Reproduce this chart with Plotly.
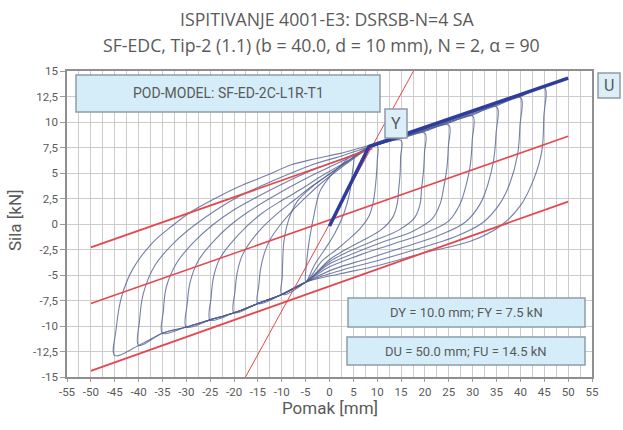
import plotly.graph_objects as go

# ---------------- data ----------------
x_ticks = [-55, -50, -45, -40, -35, -30, -25, -20, -15, -10, -5, 0, 5, 10, 15, 20, 25, 30, 35, 40, 45, 50, 55]
x_ticktext = ["-55", "-50", "-45", "-40", "-35", "-30", "-25", "-20", "-15", "-10", "-5", "0", "5",
              "10", "15", "20", "25", "30", "35", "40", "45", "50", "55"]
y_ticks = [-15, -12.5, -10, -7.5, -5, -2.5, 0, 2.5, 5, 7.5, 10, 12.5, 15]
y_ticktext = ["-15", "-12,5", "-10", "-7,5", "-5", "-2,5", "0", "2,5", "5", "7,5", "10", "12,5", "15"]

# common lower (negative) envelope path
lower_env_x = [-5, -10, -15, -20, -25, -30, -35, -40, -45]
lower_env_f = [-5.7, -6.9, -7.8, -8.7, -9.4, -10.1, -10.7, -11.9, -12.9]

amplitudes = [5, 10, 15, 20, 25, 30, 35, 40, 45]

# unloading branches (from +A peak towards the lower path)
desc_x = {
    45: [45, 44.9, 44.5, 42.8, 40, 35.8, 29.5, 20, 10, 2],
    40: [40, 39.9, 39.4, 37.8, 35.7, 32, 26, 18, 10, 2],
    35: [35, 34.9, 34.4, 33.2, 31.6, 28.5, 23, 16, 8, 1],
    30: [30, 29.9, 29.5, 28.5, 27.4, 25, 20, 13, 6, 0],
    25: [25, 24.9, 24.6, 23.9, 23.2, 21.5, 17.5, 11, 5, 0],
    20: [20, 19.9, 19.7, 19.3, 19, 17.8, 14.5, 9, 4, 0],
    15: [15, 14.9, 14.8, 14.5, 14.2, 13.3, 11, 7, 3, 0],
    10: [10, 10, 9.8, 9.5, 9.1, 8.3, 6.5, 4, 1.5, -1.5],
    5: [5, 4.8, 4.2, 3, 1, -1, -3],
}
desc_f = {
    45: [13.4, 10.5, 7.2, 4.4, 1.8, -0.2, -1.7, -2.8, -4.1, -4.9],
    40: [12.4, 9.6, 6.8, 4.0, 2.0, 0.1, -1.3, -2.5, -3.6, -4.6],
    35: [11.5, 8.9, 6.3, 3.9, 2.0, 0.2, -1.1, -2.2, -3.4, -4.4],
    30: [10.6, 8.2, 5.8, 3.6, 2.0, 0.3, -0.9, -2.0, -3.1, -4.2],
    25: [9.7, 7.6, 5.5, 3.5, 2.0, 0.5, -0.7, -1.8, -2.9, -3.9],
    20: [8.9, 7.0, 5.2, 3.5, 2.0, 0.6, -0.6, -1.7, -2.7, -3.7],
    15: [8.2, 6.6, 5.0, 3.4, 2.0, 0.7, -0.5, -1.6, -2.6, -3.5],
    10: [7.7, 6.2, 4.6, 3.2, 2.0, 0.8, -0.4, -1.5, -2.5, -3.6],
    5: [6.8, 5.0, 3.0, 1.0, -1.0, -2.5, -3.9],
}

# reloading branches (from -A peak up to +A peak)
asc_x = {
    45: [-45, -44.7, -43.6, -41.2, -37, -33, -29, -24, -18.8, -13, -8, -3, 2, 6, 9, 15, 20, 25, 30, 35, 40, 45],
    40: [-40, -39.8, -39, -36.5, -32.5, -28.5, -24, -19, -13.5, -8, -3, 2, 6, 9, 15, 20, 25, 30, 35, 40],
    35: [-35, -34.8, -34.2, -32, -28.5, -24.5, -20, -15, -10, -5, 0, 5, 9, 15, 20, 25, 30, 35],
    30: [-30, -29.8, -29.2, -27.5, -24.5, -21, -17, -12.5, -8, -3.5, 1, 5, 9, 15, 20, 25, 30],
    25: [-25, -24.8, -24.3, -23, -20.5, -17.5, -14, -10, -6, -2, 2, 6, 9, 15, 20, 25],
    20: [-20, -19.8, -19.3, -18.3, -16.5, -14, -11, -7.5, -4, 0, 4, 8, 10, 15, 20],
    15: [-15, -14.8, -14.4, -13.6, -12.4, -10.5, -8, -5, -2, 1.5, 5, 8.5, 11, 15],
    10: [-10, -9.9, -9.8, -9.5, -8.5, -6.8, -3.5, 0, 4, 8, 10],
    5: [-5, -4.8, -4.2, -3.2, -2, 0, 2.5, 5],
}
asc_f = {
    45: [-12.9, -10.3, -7.2, -4.4, -1.8, -0.2, 1.2, 2.5, 3.7, 4.8, 5.8, 6.4, 6.9, 7.4, 7.8, 8.6, 9.3, 10.1, 10.9, 11.7, 12.5, 13.4],
    40: [-11.9, -9.5, -6.8, -4.0, -1.8, -0.2, 1.3, 2.7, 3.9, 5.0, 5.9, 6.6, 7.2, 7.7, 8.5, 9.2, 10.0, 10.8, 11.6, 12.4],
    35: [-10.7, -8.5, -6.2, -3.8, -1.8, -0.1, 1.4, 2.7, 3.9, 5.0, 5.9, 6.8, 7.6, 8.5, 9.2, 10.0, 10.7, 11.5],
    30: [-10.1, -7.8, -5.7, -3.6, -1.8, -0.2, 1.2, 2.5, 3.7, 4.8, 5.8, 6.7, 7.6, 8.5, 9.2, 9.9, 10.6],
    25: [-9.4, -7.2, -5.2, -3.4, -1.8, -0.3, 1.1, 2.3, 3.4, 4.6, 5.7, 6.8, 7.6, 8.4, 9.1, 9.7],
    20: [-8.7, -6.6, -4.7, -3.1, -1.7, -0.3, 1.0, 2.3, 3.6, 4.9, 6.2, 7.4, 7.8, 8.4, 8.9],
    15: [-7.8, -6.0, -4.3, -2.8, -1.5, -0.2, 1.2, 2.6, 3.9, 5.2, 6.4, 7.5, 7.9, 8.2],
    10: [-6.9, -5.2, -3.5, -1.5, 0.5, 2.2, 3.7, 4.9, 6.2, 7.5, 7.7],
    5: [-5.7, -3.8, -1.5, 1.0, 3.2, 4.6, 5.8, 6.8],
}

# bilinear (envelope) idealisation
bilin_x = [0, 8.3, 50]
bilin_f = [-0.2, 7.6, 14.3]

# red reference lines
red_upper_x = [-50, 9]
red_upper_f = [-2.3, 7.4]
red_mid_x = [-50, 50]
red_mid_f = [-7.8, 8.6]
red_lower_x = [-50, 50]
red_lower_f = [-14.4, 2.2]
red_steep_x = [-17.6, 17.6]
red_steep_f = [-15, 15]

title_1 = "ISPITIVANJE 4001-E3: DSRSB-N=4 SA"
title_2 = "SF-EDC, Tip-2 (1.1) (b = 40.0, d = 10 mm), N = 2, \u03b1 = 90"
box_model = "POD-MODEL: SF-ED-2C-L1R-T1"
box_dy = "DY = 10.0 mm; FY = 7.5 kN"
box_du = "DU = 50.0 mm; FU = 14.5 kN"

# ---------------- figure ----------------
FONT = "Roboto"
TFONT = "Open Sans"
TXT = "#5a5a5a"
RED = "#e6474f"
LOOP = "rgba(78,92,145,0.78)"

fig = go.Figure()

for A in amplitudes:
    env_x = [x for x in lower_env_x if x > -A]
    env_f = [f for x, f in zip(lower_env_x, lower_env_f) if x > -A]
    xs = desc_x[A] + env_x + asc_x[A]
    fs = desc_f[A] + env_f + asc_f[A]
    fig.add_trace(go.Scatter(x=xs, y=fs, mode="lines",
                             line=dict(color=LOOP, width=1.1, shape="spline", smoothing=1.0),
                             hoverinfo="skip", showlegend=False))

for lx, lf, w in [(red_upper_x, red_upper_f, 1.8), (red_mid_x, red_mid_f, 1.5),
                  (red_lower_x, red_lower_f, 1.8), (red_steep_x, red_steep_f, 1.0)]:
    fig.add_trace(go.Scatter(x=lx, y=lf, mode="lines", line=dict(color=RED, width=w),
                             hoverinfo="skip", showlegend=False))

fig.add_trace(go.Scatter(x=bilin_x, y=bilin_f, mode="lines",
                         line=dict(color="#2f3c9c", width=3.5),
                         hoverinfo="skip", showlegend=False))

L, R, T, B = 67, 31, 71, 53
W, H = 623, 430
PW, PH = W - L - R, H - T - B


def px2paper(px, py):
    return (px - L) / PW, (H - B - py) / PH


def box(x0p, y0p, x1p, y1p, text, size, fill="#d5edf8"):
    x0, y1 = px2paper(x0p, y0p)
    x1, y0 = px2paper(x1p, y1p)
    fig.add_shape(type="rect", xref="paper", yref="paper", x0=x0, y0=y0, x1=x1, y1=y1,
                  fillcolor=fill, line=dict(color="#8e9ca8", width=1.5), layer="above")
    fig.add_annotation(xref="paper", yref="paper", x=(x0 + x1) / 2, y=(y0 + y1) / 2,
                       text=text, showarrow=False, font=dict(family=FONT, size=size, color=TXT),
                       xanchor="center", yanchor="middle")


box(76, 75, 380, 112, box_model, 14)
box(348, 298, 585, 327, box_dy, 13)
box(347, 337, 585, 365, box_du, 13)
box(385, 109, 407, 138, "Y", 16, fill="#dcefF8")
box(598, 73, 620, 98, "U", 16, fill="#dcefF8")

for txt, px, py, sz in [(title_1, 327, 19, 17.7), (title_2, 321, 45, 17.7)]:
    xp, yp = px2paper(px, py)
    fig.add_annotation(xref="paper", yref="paper", x=xp, y=yp, text=txt, showarrow=False,
                       font=dict(family=TFONT, size=sz, color=TXT), xanchor="center", yanchor="middle")

xp, yp = px2paper(15, 220)
fig.add_annotation(xref="paper", yref="paper", x=xp, y=yp, text="Sila [kN]", textangle=-90,
                   showarrow=False, font=dict(family=FONT, size=17, color=TXT),
                   xanchor="center", yanchor="middle")
xp, yp = px2paper(330, 408)
fig.add_annotation(xref="paper", yref="paper", x=xp, y=yp, text="Pomak [mm]",
                   showarrow=False, font=dict(family=FONT, size=17, color=TXT),
                   xanchor="center", yanchor="middle")

GRID = "#cccccc"
fig.update_xaxes(range=[-55, 55], tickmode="array", tickvals=x_ticks, ticktext=x_ticktext,
                 showgrid=True, gridcolor=GRID, gridwidth=1,
                 minor=dict(dtick=2.5, tick0=0, showgrid=True, gridcolor=GRID, gridwidth=1),
                 showline=True, mirror=True, linecolor="#8f8f8f", linewidth=1.5,
                 ticks="outside", ticklen=3, tickcolor="#9a9a9a",
                 tickfont=dict(family=FONT, size=11.5, color=TXT), zeroline=False, fixedrange=True)
fig.update_yaxes(range=[-15, 15], tickmode="array", tickvals=y_ticks, ticktext=y_ticktext,
                 showgrid=True, gridcolor=GRID, gridwidth=1.2,
                 showline=True, mirror=True, linecolor="#8f8f8f", linewidth=1.5,
                 ticks="outside", ticklen=5, tickcolor="#9a9a9a",
                 tickfont=dict(family=FONT, size=11.5, color=TXT), zeroline=False, fixedrange=True)

fig.update_layout(width=W, height=H, margin=dict(l=L, r=R, t=T, b=B),
                  paper_bgcolor="white", plot_bgcolor="white", showlegend=False)

fig.write_html("out.html", config={"displayModeBar": False},
               post_script="document.body.style.margin='0px';document.body.style.overflow='hidden';")
